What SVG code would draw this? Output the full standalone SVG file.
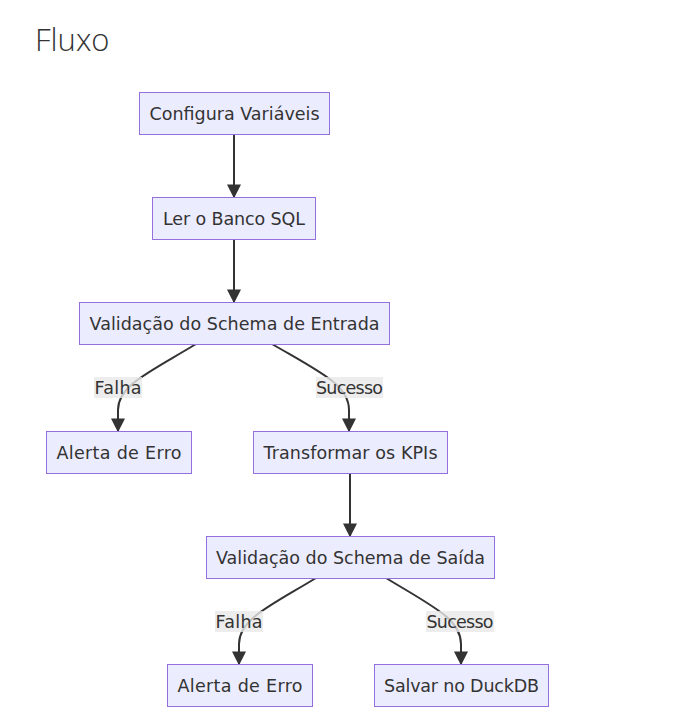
<svg xmlns="http://www.w3.org/2000/svg" width="681" height="724" viewBox="0 0 681 724">
<defs>
<style>
.node rect{fill:#ECECFF;stroke:#9370DB;stroke-width:1}
.node text{font-family:"DejaVu Sans","Liberation Sans",sans-serif;font-size:17.5px;fill:#333;text-anchor:middle;dominant-baseline:central}
.edge{fill:none;stroke:#333;stroke-width:2}
.lbl rect{fill:#e8e8e8;opacity:0.8}
.lbl text{font-family:"DejaVu Sans","Liberation Sans",sans-serif;font-size:17.5px;fill:#333;text-anchor:middle;dominant-baseline:central}
.title{font-family:"Open Sans","Noto Sans",sans-serif;font-size:31px;font-weight:300;fill:#333}
</style>
<marker id="arrow" viewBox="0 0 10 10" refX="9" refY="5" markerWidth="7" markerHeight="7" markerUnits="strokeWidth" orient="auto">
<path d="M0,0 L10,5 L0,10 z" fill="#333"/>
</marker>
</defs>
<rect width="681" height="724" fill="#ffffff"/>
<text class="title" x="35" y="51">Fluxo</text>

<g id="connectors">
<path class="edge" d="M234,134 L234,197" marker-end="url(#arrow)"/>
<path class="edge" d="M234,239 L234,302" marker-end="url(#arrow)"/>
<path class="edge" d="M196,344 C150,372 118,385 118,410 L118,431" marker-end="url(#arrow)"/>
<path class="edge" d="M272,344 C320,372 349,385 349,410 L349,431" marker-end="url(#arrow)"/>
<path class="edge" d="M350,473 L350,536" marker-end="url(#arrow)"/>
<path class="edge" d="M316,578 C270,606 239,619 239,644 L239,664" marker-end="url(#arrow)"/>
<path class="edge" d="M386,578 C432,606 461,619 461,644 L461,664" marker-end="url(#arrow)"/>
<g class="lbl">
<rect x="94" y="377" width="48" height="21"/><text x="118" y="387.5" textLength="47">Falha</text>
<rect x="316" y="377" width="67" height="21"/><text x="349.5" y="387.5" textLength="67">Sucesso</text>
<rect x="215" y="611" width="48" height="21"/><text x="239" y="621.5" textLength="47">Falha</text>
<rect x="426" y="611" width="68" height="21"/><text x="460" y="621.5" textLength="67">Sucesso</text>
</g>
</g>

<g id="n1" class="node"><rect x="139.5" y="92.5" width="190" height="42"/><text x="234.5" y="113.5" textLength="170">Configura Variáveis</text></g>
<g id="n2" class="node"><rect x="152.5" y="197.5" width="163" height="42"/><text x="234" y="218.5" textLength="142">Ler o Banco SQL</text></g>
<g id="n3" class="node"><rect x="79.5" y="302.5" width="310" height="42"/><text x="234.5" y="323.5" textLength="290">Validação do Schema de Entrada</text></g>
<g id="n4" class="node"><rect x="46.5" y="431.5" width="145" height="42"/><text x="119" y="452.5" textLength="125">Alerta de Erro</text></g>
<g id="n5" class="node"><rect x="253.5" y="431.5" width="194" height="42"/><text x="350.5" y="452.5" textLength="174">Transformar os KPIs</text></g>
<g id="n6" class="node"><rect x="206.5" y="536.5" width="288" height="42"/><text x="350.5" y="557.5" textLength="269">Validação do Schema de Saída</text></g>
<g id="n7" class="node"><rect x="167.5" y="664.5" width="145" height="42"/><text x="240" y="685.5" textLength="125">Alerta de Erro</text></g>
<g id="n8" class="node"><rect x="374.5" y="664.5" width="174" height="42"/><text x="461.5" y="685.5" textLength="155">Salvar no DuckDB</text></g>
</svg>
